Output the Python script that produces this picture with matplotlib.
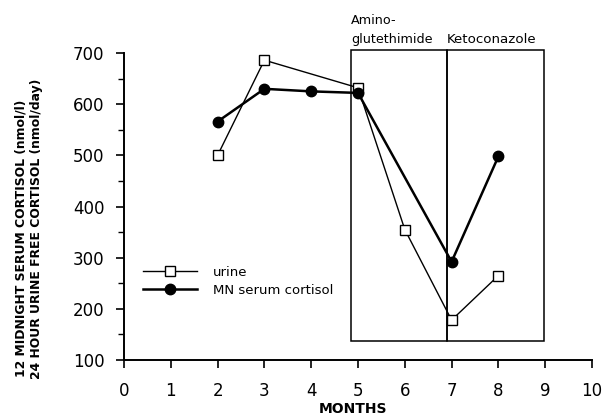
import matplotlib
matplotlib.use("Agg")
import matplotlib.pyplot as plt
from matplotlib.patches import Rectangle
from matplotlib.ticker import MultipleLocator

plt.rcParams['font.family'] = ['DejaVu Sans']

# data
urine_months = [2, 3, 5, 6, 7, 8]
urine_vals = [500, 686, 632, 355, 178, 265]
serum_months = [2, 3, 4, 5, 7, 8]
serum_vals = [566, 630, 625, 622, 292, 498]

amino_span = (4.85, 6.9)
keto_span = (6.9, 8.97)
box_y = (138, 705)

W, H = 604, 416
fig = plt.figure(figsize=(W/100, H/100), dpi=100)
ax = fig.add_axes([124/W, 1 - 360/H, 468/W, 307/H])

# treatment boxes
ax.add_patch(Rectangle((amino_span[0], box_y[0]), amino_span[1] - amino_span[0],
                       box_y[1] - box_y[0], fill=False, lw=1.1, ec='k', clip_on=False))
ax.add_patch(Rectangle((keto_span[0], box_y[0]), keto_span[1] - keto_span[0],
                       box_y[1] - box_y[0], fill=False, lw=1.1, ec='k', clip_on=False))
fig.text(351/W, 1 - 24/H, 'Amino-', fontsize=9.2, ha='left', va='baseline')
fig.text(351/W, 1 - 43/H, 'glutethimide', fontsize=9.2, ha='left', va='baseline')
fig.text(447/W, 1 - 43/H, 'Ketoconazole', fontsize=9.6, ha='left', va='baseline')

ax.plot(urine_months, urine_vals, '-', color='k', lw=1.0, marker='s',
        ms=7, mfc='white', mec='k', mew=1.0, label='urine', clip_on=False, zorder=3)
ax.plot(serum_months, serum_vals, '-', color='k', lw=1.8, marker='o',
        ms=7.5, mfc='k', mec='k', label='MN serum cortisol', clip_on=False, zorder=4)

ax.set_xlim(0, 10)
ax.set_ylim(100, 700)
ax.set_xticks(range(0, 11))
ax.yaxis.set_major_locator(MultipleLocator(100))
ax.yaxis.set_minor_locator(MultipleLocator(50))
ax.tick_params(axis='both', direction='out', labelsize=12, width=1.2, length=6)
ax.tick_params(axis='y', pad=8)
ax.tick_params(axis='x', pad=10)
ax.tick_params(axis='y', which='minor', direction='out', width=1.0, length=4)
ax.spines['top'].set_visible(False)
ax.spines['right'].set_visible(False)
ax.spines['left'].set_linewidth(1.4)
ax.spines['bottom'].set_linewidth(1.4)

fig.text(353/W, 1 - 409/H, 'MONTHS', fontsize=10, fontweight='bold',
         ha='center', va='center')
fig.text(21/W, 1 - 238/H, '12 MIDNIGHT SERUM CORTISOL (nmol/l)', rotation=90,
         fontsize=8.9, fontweight='bold', ha='center', va='center')
fig.text(37/W, 1 - 229/H, '24 HOUR URINE FREE CORTISOL (nmol/day)', rotation=90,
         fontsize=8.9, fontweight='bold', ha='center', va='center')

fig.legend(*ax.get_legend_handles_labels(), loc='upper left',
           bbox_to_anchor=(143/W, 1 - 266/H), frameon=False, borderpad=0,
           borderaxespad=0, fontsize=9.5, handlelength=4.1, handletextpad=1.2,
           labelspacing=0.35)

fig.savefig('out.png', dpi=100)
